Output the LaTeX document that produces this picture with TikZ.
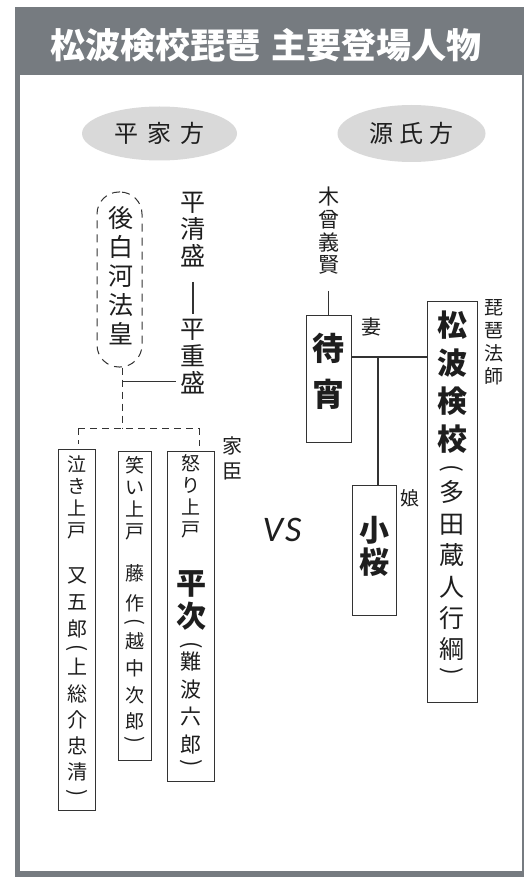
\documentclass[tikz,border=0pt]{standalone}
\usepackage{fontspec}
\newfontfamily\jp{Noto Sans CJK JP}
\newfontfamily\vsfont{Carlito}
\usetikzlibrary{shapes.geometric}
\definecolor{hdr}{HTML}{767B80}
\definecolor{ellg}{HTML}{D9D9D9}
\definecolor{ink}{HTML}{1E1E1E}
\definecolor{lin}{HTML}{333333}
\tikzset{
  vt/.style 2 args={align=center, inner sep=0pt, anchor=north, text=ink,
    font={\jp\fontsize{#1}{#2}\selectfont},
    execute at begin node={\rule{0pt}{.88em}}},
  vtb/.style 2 args={align=center, inner sep=0pt, anchor=north, text=ink,
    font={\jp\bfseries\fontsize{#1}{#2}\selectfont},
    execute at begin node={\rule{0pt}{.88em}}},
  lbl/.style={inner sep=0pt, text=ink, font={\jp\fontsize{#1}{#1}\selectfont}},
  paren/.style={inner sep=0pt, text=ink, rotate=-90, font={\jp\fontsize{#1}{#1}\selectfont}},
  pbox/.style={draw=lin, line width=1pt, inner sep=0pt, fill=white},
  tline/.style={draw=lin, line width=1pt},
  mline/.style={draw=lin, line width=2.6pt},
  dsh/.style={draw=lin, line width=1pt, dash pattern=on 7pt off 5pt},
}
\begin{document}
\begin{tikzpicture}[x=1pt,y=-1pt]
\useasboundingbox (0,0) rectangle (525,877);
% frame
\fill[hdr] (15,7) rectangle (524,877);
\fill[white] (20,75) rectangle (522,871);
\node[text=white, inner sep=0pt, font={\jp\bfseries\fontsize{35}{35}\selectfont}] (title) at (266,45) {松波検校琵琶\hspace{12pt}主要登場人物};
% side labels
\node[ellipse, fill=ellg, minimum width=155pt, minimum height=54pt, inner sep=0pt, text=ink, font={\jp\fontsize{24}{24}\selectfont}] (heike) at (159.5,133.5) {平\hspace{9pt}家\hspace{9pt}方};
\node[ellipse, fill=ellg, minimum width=148pt, minimum height=57pt, inner sep=0pt, text=ink, font={\jp\fontsize{24}{24}\selectfont}] (genji) at (411.5,133.5) {源\hspace{6pt}氏\hspace{6pt}方};
% Heike side
\node[draw=lin, line width=1pt, dash pattern=on 8pt off 6pt, rounded corners=22pt, minimum width=45pt, minimum height=175pt, inner sep=0pt] (gosh) at (119.5,279.5) {};
\node[vt={25}{29}] (goshtxt) at (121,206.7) {後\\白\\河\\法\\皇};
\node[vt={25}{27}] (kiyo) at (193,191.7) {平\\清\\盛};
\node[vt={25}{27}] (shige) at (193,318.7) {平\\重\\盛};
\draw[tline, line width=1.2pt, shorten <=15pt, shorten >=5pt] (kiyo) -- (shige);
% retainer boxes
\node[pbox, minimum width=37pt, minimum height=361pt] (b1) at (76.5,629.5) {};
\node[pbox, minimum width=33pt, minimum height=309pt] (b2) at (134.5,605.5) {};
\node[pbox, minimum width=47pt, minimum height=330pt] (b3) at (190.5,616) {};
% box 1
\node[vt={19}{22}] (b1a) at (76.5,456) {泣\\き\\上\\戸};
\node[vt={20}{27}] (b1b) at (77,567.2) {又\\五\\郎};
\node[paren=21] (b1o) at (77,648) {(};
\node[vt={20}{26.25}] (b1c) at (77,658.2) {上\\総\\介\\忠\\清};
\node[paren=21] (b1e) at (77,793) {)};
% box 2
\node[vt={19}{22}] (b2a) at (134.5,456) {笑\\い\\上\\戸};
\node[vt={19}{29.5}] (b2b) at (135,564.7) {藤\\作};
\node[paren=20] (b2o) at (135,622) {(};
\node[vt={19}{26.7}] (b2c) at (135,632.7) {越\\中\\次\\郎};
\node[paren=20] (b2e) at (135,740) {)};
% box 3
\node[vt={19}{22}] (b3a) at (190.5,454) {怒\\り\\上\\戸};
\node[vtb={30}{33}] (b3b) at (191,570.3) {平\\次};
\node[paren=22] (b3o) at (191,645) {(};
\node[vt={21}{27.7}] (b3c) at (191,651.7) {難\\波\\六\\郎};
\node[paren=22] (b3e) at (191,763) {)};
\node[vt={20}{25}] (kashin) at (232,436) {家\\臣};
% tree connectors
\coordinate (j1) at (122,381);
\coordinate (hub) at (122,428);
\coordinate (dl) at (78,428);
\coordinate (dr) at (199,428);
\draw[tline, shorten >=4.5pt] (j1) -- (j1 -| shige.west);
\draw[dsh] (gosh.south -| hub) -- (hub);
\draw[dsh] (dl) -- (dr);
\draw[dsh, shorten >=5pt] (dl) -- (dl |- b1.north);
\draw[dsh, shorten >=5pt] (dr) -- (dr |- b3.north);
% VS
\node[inner sep=0pt, text=ink, font={\vsfont\itshape\fontsize{36}{36}\selectfont}] (vs) at (282,530) {V\kern2pt S};
% Genji side
\node[vt={21}{22.7}] (kiso) at (328.5,187) {木\\曾\\義\\賢};
\node[pbox, minimum width=45pt, minimum height=127pt] (matsu) at (328.5,378.5) {};
\node[vtb={32}{46}] (matsutxt) at (328.5,333.4) {待\\宵};
\draw[tline, shorten <=16pt] (kiso) -- (matsu);
\node[lbl=20] (tsuma) at (371,327) {妻};
\node[pbox, minimum width=50pt, minimum height=401pt] (kengyo) at (452,501.5) {};
\node[vtb={30}{38}] (kengyoa) at (452,310.5) {松\\波\\検\\校};
\node[paren=23] (kengyoo) at (452,468) {(};
\node[vt={25}{31.4}] (kengyob) at (452,480.7) {多\\田\\蔵\\人\\行\\綱};
\node[paren=23] (kengyoe) at (452,671) {)};
\node[vt={19}{23}] (biwa) at (494,299) {琵\\琶\\法\\師};
\node[pbox, minimum width=44pt, minimum height=130pt] (koz) at (374,550) {};
\node[vtb={30}{32}] (koztxt) at (374,516.5) {小\\桜};
\node[lbl=19] (musume) at (410,498) {娘};
\coordinate (m) at (378,357);
\draw[mline] (m -| matsu.east) -- (m -| kengyo.west);
\draw[mline] (m) -- (m |- koz.north);
\end{tikzpicture}
\end{document}
